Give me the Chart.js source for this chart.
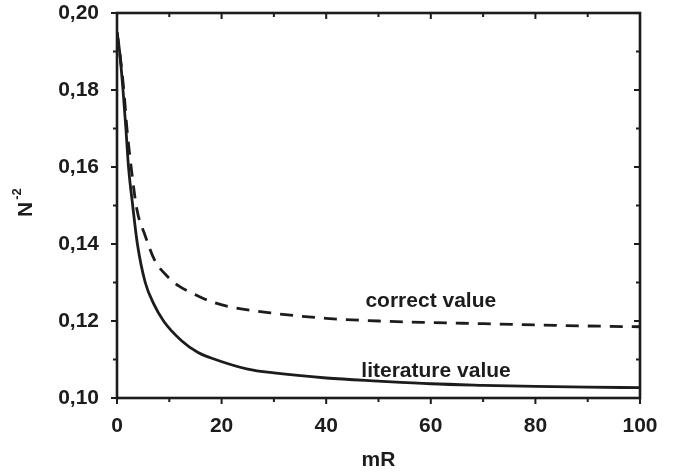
<!DOCTYPE html>
<html>
<head>
<meta charset="utf-8">
<script src="https://cdn.jsdelivr.net/npm/chart.js@4.4.1/dist/chart.umd.min.js"></script>
<style>
  html, body { margin: 0; padding: 0; background: #fff; }
  #wrap { width: 684px; height: 472px; position: relative; }
</style>
</head>
<body>
<div id="wrap"><canvas id="chart"></canvas></div>
<script>
// values
const litX = [0, 0.5, 1.15, 1.7, 2.2, 3.0, 3.9, 5.4, 7.0, 8.9, 12.4, 15.5, 18.8, 25, 30, 40, 50, 60, 70, 80, 90, 100];
const litY = [0.195, 0.190, 0.180, 0.170, 0.160, 0.150, 0.140, 0.130, 0.1245, 0.120, 0.1148, 0.1118, 0.1100, 0.1075, 0.1065, 0.1052, 0.1044, 0.1037, 0.1033, 0.1030, 0.1028, 0.1027];

const corX = [0, 0.5, 1.3, 1.9, 2.7, 3.8, 5.3, 7.3, 9.2, 11.8, 14.9, 18.1, 21.6, 30, 40, 50, 60, 70, 80, 90, 100];
const corY = [0.195, 0.190, 0.180, 0.170, 0.160, 0.149, 0.1425, 0.1355, 0.1322, 0.1291, 0.1269, 0.1250, 0.1237, 0.1220, 0.1207, 0.1200, 0.1196, 0.1193, 0.1190, 0.1187, 0.1185];

const xTicks = [0, 20, 40, 60, 80, 100];
const yTicks = [0.10, 0.12, 0.14, 0.16, 0.18, 0.20];

const FONT = "'Liberation Sans', Arial, sans-serif";
const INK = "#1c1c1c";

const toPts = (xs, ys) => xs.map((x, i) => ({ x: x, y: ys[i] }));
const fmtY = v => v.toFixed(2).replace(".", ",");

// frame, tick marks, curve labels, y title
const framePlugin = {
  id: "frame",
  afterDatasetsDraw(chart) {
    const { ctx, chartArea: a, scales: { x, y } } = chart;
    ctx.save();
    ctx.strokeStyle = INK;
    ctx.lineWidth = 2.6;
    ctx.strokeRect(a.left, a.top, a.right - a.left, a.bottom - a.top);

    ctx.lineWidth = 2;
    for (let v = 0; v <= 100; v += 10) {
      const px = x.getPixelForValue(v);
      const len = v % 20 === 0 ? 6 : 4;
      ctx.beginPath();
      ctx.moveTo(px, a.bottom); ctx.lineTo(px, a.bottom + len);
      ctx.moveTo(px, a.top); ctx.lineTo(px, a.top + len);
      ctx.stroke();
    }
    for (let i = 0; i <= 10; i++) {
      const v = 0.10 + i * 0.01;
      const py = y.getPixelForValue(v);
      const len = i % 2 === 0 ? 6 : 4;
      ctx.beginPath();
      ctx.moveTo(a.left, py); ctx.lineTo(a.left - len, py);
      ctx.moveTo(a.right, py); ctx.lineTo(a.right - len, py);
      ctx.stroke();
    }

    ctx.fillStyle = INK;
    ctx.font = "bold 21px " + FONT;
    ctx.textAlign = "center";
    ctx.textBaseline = "alphabetic";
    ctx.fillText("correct value", x.getPixelForValue(60), y.getPixelForValue(0.1237));
    ctx.fillText("literature value", x.getPixelForValue(61), y.getPixelForValue(0.1055));

    // N^-2 rotated title
    ctx.translate(26.5, 209.5);
    ctx.rotate(-Math.PI / 2);
    ctx.textBaseline = "middle";
    ctx.font = "bold 21px " + FONT;
    ctx.fillText("N", 0, 0);
    ctx.font = "bold 13px " + FONT;
    ctx.fillText("-2", 15.5, -9);
    ctx.restore();
  }
};

new Chart(document.getElementById("chart"), {
  type: "line",
  data: {
    datasets: [
      {
        label: "literature value",
        data: toPts(litX, litY),
        borderColor: INK,
        borderWidth: 2.8,
        pointRadius: 0,
        cubicInterpolationMode: "monotone",
        fill: false
      },
      {
        label: "correct value",
        data: toPts(corX, corY),
        borderColor: INK,
        borderWidth: 2.8,
        borderDash: [13, 9],
        pointRadius: 0,
        cubicInterpolationMode: "monotone",
        fill: false
      }
    ]
  },
  options: {
    responsive: true,
    maintainAspectRatio: false,
    animation: false,
    layout: { padding: { top: 13, right: 44, left: 0, bottom: 0 } },
    plugins: {
      legend: { display: false },
      tooltip: { enabled: false }
    },
    scales: {
      x: {
        type: "linear",
        min: 0,
        max: 100,
        afterBuildTicks: s => { s.ticks = xTicks.map(v => ({ value: v })); },
        afterFit: s => { s.height = 74; s.paddingLeft = 0; s.paddingRight = 0; },
        grid: { display: false },
        border: { display: false },
        ticks: {
          padding: 8,
          color: INK,
          font: { family: FONT, size: 21, weight: "bold" },
          maxRotation: 0
        },
        title: {
          display: true,
          text: "mR",
          color: INK,
          font: { family: FONT, size: 21, weight: "bold" },
          padding: { top: 4, bottom: -1 }
        }
      },
      y: {
        type: "linear",
        min: 0.10,
        max: 0.20,
        afterBuildTicks: s => { s.ticks = yTicks.map(v => ({ value: v })); },
        afterFit: s => { s.width = 117; s.paddingTop = 0; s.paddingBottom = 0; },
        grid: { display: false },
        border: { display: false },
        ticks: {
          padding: 10,
          color: INK,
          font: { family: FONT, size: 21, weight: "bold" },
          callback: v => fmtY(v)
        }
      }
    }
  },
  plugins: [framePlugin]
});
</script>
</body>
</html>
